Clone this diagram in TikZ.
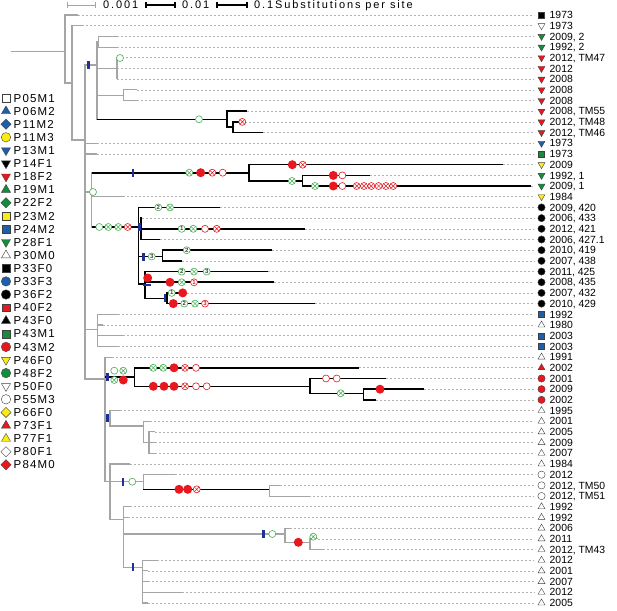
\documentclass[tikz,border=0pt]{standalone}
\usepackage{fontspec}
\setmainfont{Liberation Sans}
\newfontfamily\legfont[LetterSpace=10]{Liberation Sans}
\newfontfamily\sclfont[LetterSpace=17]{Liberation Sans}
\usetikzlibrary{shapes.geometric}

\definecolor{tred}{RGB}{232,24,30}
\definecolor{tgreen}{RGB}{20,140,60}
\definecolor{tblue}{RGB}{30,95,170}
\definecolor{tyellow}{RGB}{250,235,20}
\definecolor{mgreen}{RGB}{70,175,80}
\definecolor{tnavy}{RGB}{30,50,150}
\definecolor{brgray}{RGB}{165,165,165}

\tikzset{
  dsh/.style={draw=black!30, line width=0.6pt, dash pattern=on 2pt off 2pt},
  sym/.style={inner sep=0pt, draw=black!75, line width=0.4pt},
  sqr/.style={sym, rectangle, minimum size=6pt},
  crc/.style={sym, circle, minimum size=7.3pt},
  tup/.style={sym, regular polygon, regular polygon sides=3, minimum size=8pt},
  tdn/.style={tup, shape border rotate=180},
  dia/.style={sym, diamond, minimum size=8pt},
  leaf/.style={anchor=west, inner sep=0pt, font=\fontsize{10.4}{12}\selectfont, text height=7.4pt, text depth=0pt},
  leg/.style={anchor=west, inner sep=0pt, font=\legfont\fontsize{11.5}{13}\selectfont, text height=8.2pt, text depth=0pt},
  scl/.style={anchor=west, inner sep=0pt, font=\sclfont\fontsize{11}{12}\selectfont, text height=7.8pt, text depth=0pt},
  xcross/.style={path picture={\draw[#1, line width=0.5pt]
      (path picture bounding box.north west) -- (path picture bounding box.south east)
      (path picture bounding box.south west) -- (path picture bounding box.north east);}},
  mk/.style={circle, inner sep=0pt, minimum size=7pt, line width=0.6pt, fill=white},
  gc/.style={mk, draw=mgreen},
  gx/.style={gc, xcross=mgreen},
  gn/.style={gc, font=\fontsize{6}{6}\selectfont\bfseries, text=black!75},
  ro/.style={mk, draw=tred},
  rx/.style={ro, xcross=tred},
  rn/.style={ro, font=\fontsize{6}{6}\selectfont\bfseries, text=tred},
  rd/.style={circle, inner sep=0pt, minimum size=9pt, fill=tred},
  bt/.style={fill=tnavy, inner sep=0pt, minimum width=2.4pt, minimum height=8pt},
  bh/.style={fill=tnavy, inner sep=0pt, minimum width=8pt, minimum height=2.4pt},
}

\begin{document}
\begin{tikzpicture}[x=1pt,y=-1pt]
\useasboundingbox (0,0) rectangle (617,610);

% scale bars
\coordinate (b1a) at (67,5);  \coordinate (b1b) at (95,5);
\coordinate (b2a) at (146,5); \coordinate (b2b) at (175,5);
\coordinate (b3a) at (217,5); \coordinate (b3b) at (247,5);
\draw[brgray, line width=0.8pt] (b1a) -- (b1b)
  ([yshift=3pt]b1a) -- ([yshift=-3pt]b1a) ([yshift=3pt]b1b) -- ([yshift=-3pt]b1b);
\draw[black, line width=1.2pt] (b2a) -- (b2b)
  ([yshift=3pt]b2a) -- ([yshift=-3pt]b2a) ([yshift=3pt]b2b) -- ([yshift=-3pt]b2b);
\draw[black, line width=2.6pt] (b3a) -- (b3b);
\draw[black, line width=1.2pt] ([yshift=3pt]b3a) -- ([yshift=-3pt]b3a) ([yshift=3pt]b3b) -- ([yshift=-3pt]b3b);
\node[scl] (sc1) at (103,5) {0.001};
\node[scl] (sc2) at (182,5) {0.01};
\node[scl] (sc3) at (254,5) {0.1Substitutions per site};

% legend
\foreach \i/\shp/\col/\lab in {1/sqr/white/P05M1, 2/tup/tblue/P06M2, 3/dia/tblue/P11M2,
    4/crc/tyellow/P11M3, 5/tdn/tblue/P13M1, 6/tdn/black/P14F1, 7/tdn/tred/P18F2,
    8/tup/tgreen/P19M1, 9/dia/tgreen/P22F2, 10/sqr/tyellow/P23M2, 11/sqr/tblue/P24M2,
    12/tdn/tgreen/P28F1, 13/tup/white/P30M0, 14/sqr/black/P33F0, 15/crc/tblue/P33F3,
    16/crc/black/P36F2, 17/sqr/tred/P40F2, 18/tup/black/P43F0, 19/sqr/tgreen/P43M1,
    20/crc/tred/P43M2, 21/tdn/tyellow/P46F0, 22/crc/tgreen/P48F2, 23/tdn/white/P50F0,
    24/crc/white/P55M3, 25/dia/tyellow/P66F0, 26/tup/tred/P73F1, 27/tup/tyellow/P77F1,
    28/dia/white/P80F1, 29/dia/tred/P84M0}{
  \pgfmathsetmacro\yy{98+(\i-1)*13.1}
  \node[\shp, fill=\col, scale=1.3, transform shape] (k\i) at (6,\yy) {};
  \node[leg] (kl\i) at (13.5,\yy) {\lab};
}

% tips, dotted guides and tip labels
\foreach \i/\xe/\shp/\col/\lab in {1/78/sqr/black/1973, 2/82/tdn/white/1973,
    3/117/tdn/tgreen/{2009, 2}, 4/117/tdn/tgreen/{1992, 2}, 5/122/tdn/tred/{2012, TM47},
    6/117/tdn/tred/2012, 7/117/tdn/tred/2008, 8/137/tdn/tred/2008, 9/137/tdn/tred/2008,
    10/247/tdn/tred/{2008, TM55}, 11/245/tdn/tred/{2012, TM48}, 12/263/tdn/tred/{2012, TM46},
    13/97/tdn/tblue/1973, 14/97/sqr/tgreen/1973, 15/503/tdn/tyellow/2009,
    16/370/tdn/tgreen/{1992, 1}, 17/531/tdn/tgreen/{2009, 1}, 18/123/tdn/tyellow/1984,
    19/220/crc/black/{2009, 420}, 20/141.7/crc/black/{2006, 433}, 21/305/crc/black/{2012, 421},
    22/160/crc/black/{2006, 427.1}, 23/271.7/crc/black/{2010, 419}, 24/181.7/crc/black/{2007, 438},
    25/267.7/crc/black/{2011, 425}, 26/274.3/crc/black/{2008, 435}, 27/186.7/crc/black/{2007, 432},
    28/315/crc/black/{2010, 429}, 29/118/sqr/tblue/1992, 30/103/tup/white/1980,
    31/123/sqr/tblue/2003, 32/118/sqr/tblue/2003, 33/112/tup/white/1991,
    34/359/tup/tred/2002, 35/385.7/crc/tred/2001, 36/424/crc/tred/2009, 37/376/crc/tred/2002,
    38/120/tup/white/1995, 39/150/tup/white/2001, 40/155/tup/white/2005, 41/155/tup/white/2009,
    42/155/tup/white/2007, 43/130/tup/white/1984, 44/175/crc/white/2012,
    45/280/crc/white/{2012, TM50}, 46/309.3/crc/white/{2012, TM51}, 47/130/tup/white/1992,
    48/128/tup/white/1992, 49/290/tup/white/2006, 50/318/tup/white/2011,
    51/323.3/tup/white/{2012, TM43}, 52/156.7/tup/white/2012, 53/148/tup/white/2001,
    54/148/tup/white/2007, 55/181.7/tup/white/2012, 56/148/tup/white/2005}{
  \pgfmathsetmacro\yy{15+(\i-1)*10.69}
  \coordinate (t\i) at (\xe,\yy);
  \coordinate (d\i) at (534,\yy);
  \draw[dsh] (t\i) -- (d\i);
  \node[\shp, fill=\col] (s\i) at (541.5,\yy) {};
  \node[leaf] (l\i) at (549.5,\yy) {\lab};
}

% inner nodes
\coordinate (stem) at (10.7,51.7);
\coordinate (root) at (65,51.7);
\coordinate (n1) at (72,83);
\coordinate (n2) at (85,140);
\coordinate (n3) at (97,65);
\coordinate (n4) at (98.3,41.7);
\coordinate (n5) at (117,68.45);
\coordinate (n6) at (123.3,95.2);
\coordinate (n7) at (227,119.3);
\coordinate (n8) at (232.7,127.2);
\coordinate (n9) at (91.7,192);
\coordinate (n10) at (249,172.7);
\coordinate (n11) at (302.3,181);
\coordinate (n12) at (138.3,227);
\coordinate (n13) at (140.7,228.8);
\coordinate (n14) at (162.3,256.5);
\coordinate (n15) at (145,284);
\coordinate (n16) at (166.7,298.3);
\coordinate (n17) at (97.7,329.7);
\coordinate (n18) at (105,379);
\coordinate (n19) at (134.3,376.7);
\coordinate (n20) at (310,386.3);
\coordinate (n21) at (363.3,393.3);
\coordinate (n22) at (110,416);
\coordinate (n23) at (143.3,426);
\coordinate (n24) at (149,442.6);
\coordinate (n25) at (110,481.7);
\coordinate (n26) at (143.3,481.7);
\coordinate (n27) at (269.3,489.3);
\coordinate (n28) at (123.3,519.3);
\coordinate (n29) at (285,534);
\coordinate (n30) at (310,542.3);
\coordinate (n31) at (142.7,567.3);

% grey branches
\begin{scope}[draw=brgray, line width=1.1pt]
  \draw (stem) -- (root);
  \draw (root) |- (t1);  \draw (root) |- (n1);
  \draw (n1) |- (t2);    \draw (n1) |- (n2);
  \draw (n2) |- (n3);    \draw (n2) |- (t13);  \draw (n2) |- (t14);
  \draw (n2) |- (n9);    \draw (n2) |- (n17);  \draw (n2) |- (n18);
  \draw (n3) |- (n4);    \draw (n3) |- (n5);   \draw (n3) |- (n6);  \draw (n3) |- (n7);
  \draw (n4) |- (t3);    \draw (n4) |- (t4);
  \draw (n5) |- (t5);    \draw (n5) |- (t6);   \draw (n5) |- (t7);
  \draw (n6) |- (t8);    \draw (n6) |- (t9);
  \draw (n9) |- (n10);   \draw (n9) |- (t18);  \draw (n9) |- (n12);
  \foreach \k in {29,...,32} \draw (n17) |- (t\k);
  \draw (n18) |- (t33);  \draw (n18) |- (n19); \draw (n18) |- (n22); \draw (n18) |- (n25);
  \draw (n22) |- (t38);  \draw (n22) |- (n23);
  \draw (n23) |- (t39);  \draw (n23) |- (n24);
  \draw (n24) |- (t40);  \draw (n24) |- (t41); \draw (n24) |- (t42);
  \draw (n25) |- (t43);  \draw (n25) |- (n26); \draw (n25) |- (n28);
  \draw (n26) |- (t44);  \draw (n26) |- (n27);
  \draw (n27) |- (t45);  \draw (n27) |- (t46);
  \draw (n28) |- (t47);  \draw (n28) |- (t48); \draw (n28) |- (n29); \draw (n28) |- (n31);
  \draw (n29) |- (t49);  \draw (n29) |- (n30);
  \draw (n30) |- (t50);  \draw (n30) |- (t51);
  \foreach \k in {52,...,56} \draw (n31) |- (t\k);
\end{scope}

% black branches
\begin{scope}[draw=black, line width=1.6pt]
  \draw (n3 |- n7) -- (n7);
  \draw (n7) |- (t10);   \draw (n7) |- (n8);
  \draw (n8) |- (t11);   \draw (n8) |- (t12);
  \draw (n9 |- n10) -- (n10);
  \draw (n10) |- (t15);  \draw (n10) |- (n11);
  \draw (n11) |- (t16);  \draw (n11) |- (t17);
  \draw (n9 |- n12) -- (n12);
  \draw (n12) |- (t19);  \draw (n12) |- (n13); \draw (n12) |- (n14); \draw (n12) |- (n15);
  \draw (n13) |- (t20);  \draw (n13) |- (t21); \draw (n13) |- (t22);
  \draw (n14) |- (t23);  \draw (n14) |- (t24);
  \draw (n15) |- (t25);  \draw (n15) |- (t26); \draw (n15) |- (n16);
  \draw (n16) |- (t27);  \draw (n16) |- (t28);
  \draw (n18 |- n19) -- (n19);
  \draw (n19) |- (t34);  \draw (n19) |- (n20);
  \draw (n20) |- (t35);  \draw (n20) |- (n21);
  \draw (n21) |- (t36);  \draw (n21) |- (t37);
  \draw (n26 |- n27) -- (n27);
\end{scope}

% changes on the branches
\node[bt] (c1) at (88.3,65) {};
\node[gc] (c2) at (120,58) {};
\node[gc] (c3) at (199,119.3) {};
\node[rx] (c4) at (242.3,121.9) {};
\node[gc] (c5) at (93,192) {};
\node[bt] (c6) at (133,172.7) {};
\foreach \s/\x [count=\k] in {gx/189.3, rd/200.7, rx/212.3, ro/222.7}
  \node[\s] (h\k) at (\x,172.7) {};
\node[rd] (c7) at (292.3,164.7) {};  \node[rx] (c8) at (302.7,164.7) {};
\node[gx] (c9) at (292,181) {};
\node[rd] (c10) at (333.3,175.4) {}; \node[ro] (c11) at (342.3,175.4) {};
\node[gx] (c12) at (315,186) {};
\node[rd] (c13) at (333.3,186) {};  \node[ro] (c14) at (342.3,186) {};
\foreach \x [count=\k] in {356.7,364,371.3,378.6,385.9,393.2}
  \node[rx] (x\k) at (\x,186) {};
\foreach \s/\x [count=\k] in {gc/99.3, gx/108.3, gx/118.3, rx/127.7}
  \node[\s] (j\k) at (\x,227) {};
\node[bt] (c15) at (139.5,227) {};
\node[gn] (c16) at (158.3,207.4) {2}; \node[gx] (c17) at (170,207.4) {};
\node[gn] (c18) at (181.7,228.8) {1}; \node[gx] (c19) at (193.3,228.8) {};
\node[ro] (c20) at (205,228.8) {};    \node[rx] (c21) at (216.7,228.8) {};
\node[bt] (c22) at (143.3,256.5) {};  \node[gn] (c23) at (151.7,256.5) {3};
\node[gn] (c24) at (186.7,250.2) {2};
\node[gn] (c25) at (181.7,271.6) {2}; \node[gx] (c26) at (194,271.6) {};
\node[gn] (c27) at (206.7,271.6) {3};
\node[rd] (c28) at (170,282.3) {};    \node[gx] (c29) at (181.7,282.3) {};
\node[rn] (c30) at (194,282.3) {1};
\node[rd] (c31) at (147.7,278) {};    \node[bh] (c32) at (146.7,285) {};
\node[bt] (c33) at (165,298.3) {};
\node[gn] (c34) at (171.7,292.9) {1}; \node[rd] (c35) at (182.7,292.9) {};
\node[rd] (c36) at (173.3,303.6) {};  \node[gn] (c37) at (184.3,303.6) {2};
\node[gx] (c38) at (195,303.6) {};    \node[rn] (c39) at (205,303.6) {3};
\node[bt] (c40) at (107.3,376.7) {};
\node[gc] (c41) at (114.3,370.7) {};  \node[gx] (c42) at (123.3,370.7) {};
\node[gx] (c43) at (114.3,380) {};    \node[rd] (c44) at (123.3,380) {};
\foreach \s/\x [count=\k] in {gx/153.3, gx/163.3, rd/174, rx/185, ro/196}
  \node[\s] (p\k) at (\x,367.8) {};
\foreach \s/\x [count=\k] in {rd/153.3, rd/164, rd/174, rx/185, ro/196, ro/206.7}
  \node[\s] (q\k) at (\x,386.3) {};
\node[ro] (c45) at (326,378.5) {};    \node[ro] (c46) at (336.7,378.5) {};
\node[gx] (c47) at (340.7,393.3) {};
\node[rd] (c48) at (380,389.2) {};
\node[bt] (c49) at (107.3,418.3) {};
\node[bt] (c50) at (122.7,481.7) {};  \node[gc] (c51) at (132.3,481.7) {};
\node[rd] (c52) at (179,489.3) {};    \node[rd] (c53) at (187.7,489.3) {};
\node[rx] (c54) at (196.7,489.3) {};
\node[bt] (c55) at (263.3,534) {};    \node[gc] (c56) at (272.3,534) {};
\node[rd] (c57) at (298.3,542.3) {};  \node[gx] (c58) at (313.3,536.7) {};
\node[bt] (c59) at (132.7,567.3) {};
\end{tikzpicture}
\end{document}
